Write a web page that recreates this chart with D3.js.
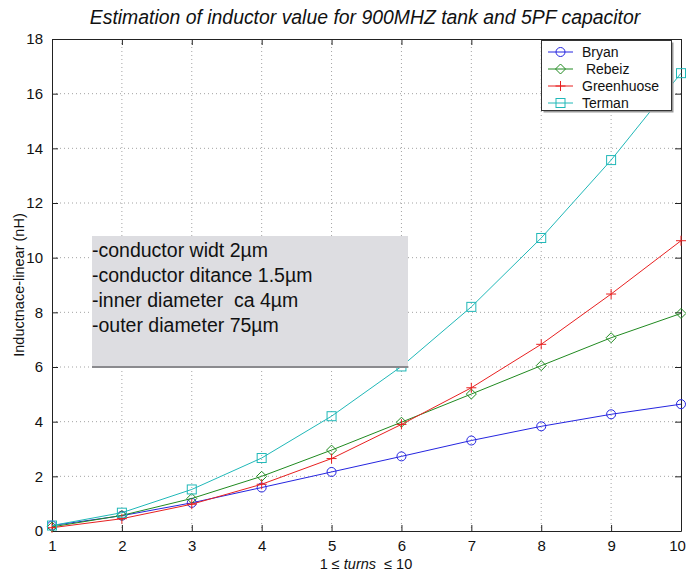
<!DOCTYPE html>
<html><head><meta charset="utf-8">
<script src="https://cdn.jsdelivr.net/npm/d3@7/dist/d3.min.js"></script>
<style>body{margin:0;background:#fff}svg{display:block;font-family:Arial,"Liberation Sans",sans-serif}</style>
</head><body><svg id="c" width="686" height="572"></svg>
<script>
const turns = [1,2,3,4,5,6,7,8,9,10];
const bryan = [0.2,0.56,1.03,1.59,2.16,2.73,3.31,3.83,4.27,4.64];
const rebeiz = [0.15,0.57,1.19,2.0,2.96,3.98,5.01,6.05,7.07,7.96];
const greenhuose = [0.12,0.45,0.98,1.71,2.65,3.9,5.24,6.83,8.67,10.62];
const terman = [0.2,0.67,1.52,2.67,4.2,6.02,8.2,10.72,13.57,16.75];
const seriesNames = ["Bryan"," Rebeiz","Greenhuose","Terman"];
const seriesColors = ["#2525e0","#208a20","#e82020","#20b8b8"];
const seriesMarkers = ["circle","diamond","plus","square"];
const xTicks = [1,2,3,4,5,6,7,8,9,10];
const yTicks = [0,2,4,6,8,10,12,14,16,18];
const noteLines = ["-conductor widt 2\u00b5m","-conductor ditance 1.5\u00b5m","-inner diameter  ca 4\u00b5m","-outer diameter 75\u00b5m"];

const allSeries = [bryan, rebeiz, greenhuose, terman];
const svg = d3.select("#c");
const L=52, R=681, T=39, B=531;
const x = d3.scaleLinear().domain([1,10]).range([L,R]);
const y = d3.scaleLinear().domain([0,18]).range([B,T]);

// title
svg.append("text").attr("x",365).attr("y",24).attr("text-anchor","middle")
  .attr("font-size",19.4).attr("font-style","italic").attr("fill","#111").text("Estimation of inductor value for 900MHZ tank and 5PF capacitor");

// grid
const g = svg.append("g");
g.selectAll(".gx").data(xTicks.slice(1,-1)).join("line")
  .attr("x1",d=>x(d)).attr("x2",d=>x(d)).attr("y1",T).attr("y2",B)
  .attr("stroke","#666").attr("stroke-width",0.6).attr("stroke-dasharray","1,3");
g.selectAll(".gy").data(yTicks.slice(1,-1)).join("line")
  .attr("y1",d=>y(d)).attr("y2",d=>y(d)).attr("x1",L).attr("x2",R)
  .attr("stroke","#666").attr("stroke-width",0.6).attr("stroke-dasharray","1,3");

// axes
const ax = svg.append("g");
const xb = ax.append("g").attr("transform",`translate(0,${B})`).call(d3.axisBottom(x).tickValues(xTicks).tickSizeInner(-6).tickSizeOuter(0).tickPadding(9));
ax.append("g").attr("transform",`translate(0,${T})`).call(d3.axisTop(x).tickValues(xTicks).tickSizeInner(-6).tickSizeOuter(0).tickFormat(""));
ax.append("g").attr("transform",`translate(${L},0)`).call(d3.axisLeft(y).tickValues(yTicks).tickSizeInner(-6).tickSizeOuter(0).tickPadding(9));
ax.append("g").attr("transform",`translate(${R},0)`).call(d3.axisRight(y).tickValues(yTicks).tickSizeInner(-6).tickSizeOuter(0).tickFormat(""));
ax.selectAll(".domain").attr("stroke","#222");
ax.selectAll(".tick line").attr("stroke","#222");
ax.selectAll("text").attr("font-family","Arial, 'Liberation Sans', sans-serif").attr("fill","#111").attr("font-size",15);
// keep last x label inside the window
xb.selectAll(".tick").filter(d=>d===xTicks[xTicks.length-1]).select("text").attr("dx",-4);

// axis labels
const xl = svg.append("text").attr("x",366).attr("y",569).attr("text-anchor","middle").attr("font-size",14.5).attr("fill","#111").style("white-space","pre");
xl.append("tspan").text("1 \u2264 ");
xl.append("tspan").attr("font-style","italic").text("turns");
xl.append("tspan").text("  \u2264 10");
svg.append("text").attr("transform",`translate(24,${(T+B)/2}) rotate(-90)`).attr("text-anchor","middle")
  .attr("font-size",14.5).attr("fill","#111").text("Inductnace-linear (nH)");

// markers
function marker(sel, type, color){
  if(type==="circle") sel.append("circle").attr("r",4.5).attr("fill","none").attr("stroke",color);
  else if(type==="diamond") sel.append("path").attr("d","M0,-5L5,0L0,5L-5,0Z").attr("fill","none").attr("stroke",color);
  else if(type==="plus") sel.append("path").attr("d","M-5,0H5M0,-5V5").attr("stroke",color);
  else sel.append("rect").attr("x",-4.5).attr("y",-4.5).attr("width",9).attr("height",9).attr("fill","none").attr("stroke",color);
}

// lines
const line = d3.line().x((d,i)=>x(turns[i])).y(d=>y(d));
allSeries.forEach((s,k)=>{
  svg.append("path").datum(s).attr("d",line).attr("fill","none").attr("stroke",seriesColors[k]).attr("stroke-width",1);
  s.forEach((v,i)=>{
    const m = svg.append("g").attr("transform",`translate(${x(turns[i])},${y(v)})`);
    marker(m, seriesMarkers[k], seriesColors[k]);
  });
});

// annotation box
const nb = svg.append("g");
nb.append("rect").attr("x",92).attr("y",236).attr("width",316).attr("height",131).attr("fill","#dddde1");
nb.append("line").attr("x1",92).attr("x2",408).attr("y1",367).attr("y2",367).attr("stroke","#8a8a8e").attr("stroke-width",2);
nb.selectAll("text").data(noteLines).join("text")
  .attr("x",92).attr("y",(d,i)=>257+i*25).attr("font-size",19.5).attr("fill","#111").style("white-space","pre").text(d=>d);

// legend
const lg = svg.append("g");
lg.append("rect").attr("x",543.5).attr("y",42.5).attr("width",130).attr("height",70).attr("fill","#999");
lg.append("rect").attr("x",541.5).attr("y",40.5).attr("width",130).attr("height",70).attr("fill","#fff").attr("stroke","#333");
seriesNames.forEach((n,k)=>{
  const yy = 52 + k*17;
  lg.append("line").attr("x1",548).attr("x2",573).attr("y1",yy).attr("y2",yy).attr("stroke",seriesColors[k]);
  const m = lg.append("g").attr("transform",`translate(560.5,${yy})`);
  marker(m, seriesMarkers[k], seriesColors[k]);
  lg.append("text").attr("x",582).attr("y",yy+5).attr("font-size",14).attr("fill","#111").style("white-space","pre").text(n);
});
</script></body></html>
